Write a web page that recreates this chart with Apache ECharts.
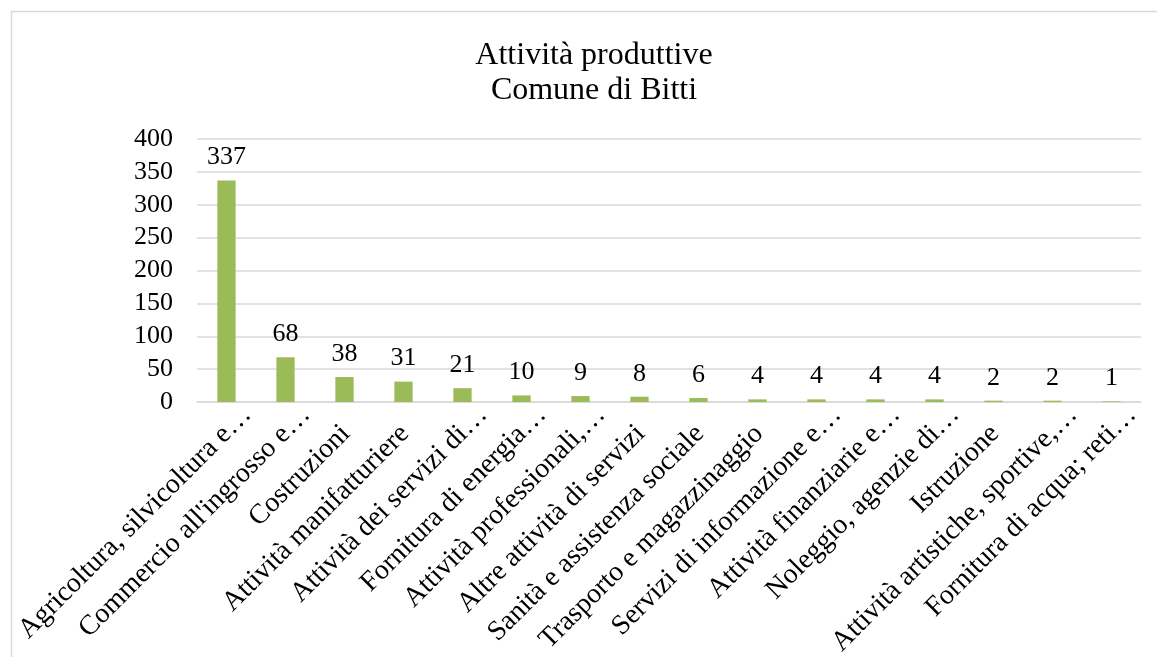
<!DOCTYPE html>
<html>
<head>
<meta charset="utf-8">
<script src="https://cdn.jsdelivr.net/npm/echarts@6/dist/echarts.min.js"></script>
<style>
  html, body { margin: 0; padding: 0; background: #ffffff; }
  #chart { width: 1157px; height: 657px; }
</style>
</head>
<body>
<div id="chart"></div>
<script>
// Attività produttive per settore, Comune di Bitti
const categories = [
  "Agricoltura, silvicoltura e…",
  "Commercio all'ingrosso e…",
  "Costruzioni",
  "Attività manifatturiere",
  "Attività dei servizi di…",
  "Fornitura di energia…",
  "Attività professionali,…",
  "Altre attività di servizi",
  "Sanità e assistenza sociale",
  "Trasporto e magazzinaggio",
  "Servizi di informazione e…",
  "Attività finanziarie e…",
  "Noleggio, agenzie di…",
  "Istruzione",
  "Attività artistiche, sportive,…",
  "Fornitura di acqua; reti…"
];
const values = [337, 68, 38, 31, 21, 10, 9, 8, 6, 4, 4, 4, 4, 2, 2, 1];
const yTicks = [0, 50, 100, 150, 200, 250, 300, 350, 400];

const serif = '"Liberation Serif", "DejaVu Serif", serif';
const chart = echarts.init(document.getElementById('chart'));

chart.setOption({
  backgroundColor: '#ffffff',
  animation: false,
  title: {
    text: 'Attività produttive\nComune di Bitti',
    left: 589,
    top: 33,
    textAlign: 'center',
    textStyle: { fontFamily: serif, fontSize: 32, fontWeight: 'normal', color: '#000', lineHeight: 35 }
  },
  graphic: [{
    type: 'rect',
    shape: { x: 11.5, y: 11.5, width: 1160, height: 660 },
    style: { fill: 'none', stroke: '#d9d9d9', lineWidth: 1.5 },
    silent: true
  }],
  grid: { left: 197, right: 16, top: 139, bottom: 255, containLabel: false, outerBoundsMode: 'none' },
  xAxis: {
    type: 'category',
    data: categories,
    axisLine: { show: true, lineStyle: { color: '#d9d9d9', width: 1.5 } },
    axisTick: { show: false },
    axisLabel: {
      interval: 0,
      rotate: 45,
      margin: -12,
      verticalAlign: 'top',
      lineHeight: 28,
      padding: [15, 0, 0, 0],
      fontFamily: serif,
      fontSize: 28,
      color: '#000',
      // names shown in full sit a little lower along the slant than shortened ones
      formatter: function (name) {
        return name.endsWith('…') ? name : name + '{sp| }';
      },
      rich: { sp: { width: 27, fontSize: 28, fontFamily: serif } }
    }
  },
  yAxis: {
    type: 'value',
    min: yTicks[0],
    max: yTicks[yTicks.length - 1],
    interval: yTicks[1] - yTicks[0],
    axisLine: { show: false },
    axisTick: { show: false },
    splitLine: { lineStyle: { color: '#d9d9d9', width: 1.5 } },
    axisLabel: { fontFamily: serif, fontSize: 26, color: '#000', margin: 24 }
  },
  series: [{
    type: 'bar',
    data: values,
    barWidth: '31%',
    itemStyle: { color: '#9bbb59' },
    label: {
      show: true,
      position: 'top',
      distance: 10,
      fontFamily: serif,
      fontSize: 26,
      color: '#000'
    }
  }]
});
</script>
</body>
</html>
